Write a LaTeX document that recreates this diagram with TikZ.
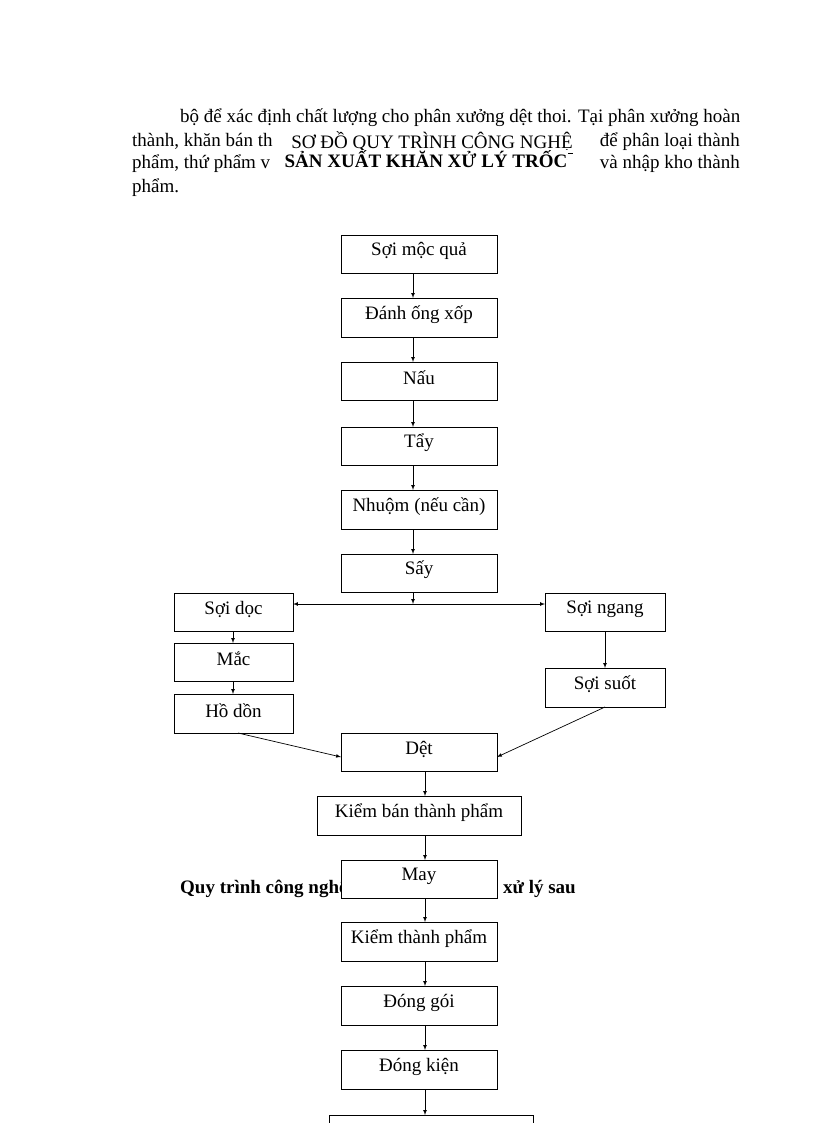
\documentclass[tikz,border=0pt]{standalone}
\usepackage{fontspec}
\setmainfont{Liberation Serif}
\begin{document}
\begin{tikzpicture}[x=1pt,y=-1pt,
 box/.style={draw,fill=white,line width=0.8pt,anchor=north west,inner sep=0pt},
 ar/.style={-latex,line width=0.7pt},
 txt/.style={inner sep=0pt,font=\fontsize{19}{21}\selectfont}]
\useasboundingbox (0,0) rectangle (816,1123);
\newcommand{\bx}[6]{\node[box,minimum width=#4-#2,minimum height=#5-#3] (#1) at (#2,#3) {};
 \node[txt] at ({(#2+#4)/2},{(#3+#5)/2-3}) {#6};}
% paragraph
\node[txt,anchor=base west,text width=560,align=justify] at (180,123) {bộ để xác định chất lượng cho phân xưởng dệt thoi. Tại phân xưởng hoàn\hfill\null};
\node[txt,anchor=base west] at (132,147) {thành, khăn bán th};
\node[txt,anchor=base east] at (740,147) {để phân loại thành};
\node[txt,anchor=base west] at (132,169) {phẩm, thứ phẩm v};
\node[txt,anchor=base east] at (740,169) {và nhập kho thành};
\node[txt,anchor=base west] at (132,193) {phẩm.};
\node[txt,fill=white,anchor=base,inner sep=1pt,font=\fontsize{19}{21}\selectfont] (t1) at (432,149) {\underline{SƠ ĐỒ QUY TRÌNH CÔNG NGHỆ}};
\node[txt,fill=white,anchor=base,font=\fontsize{19}{21}\selectfont\bfseries,inner sep=1pt] (t2) at (426,168) {SẢN XUẤT KHĂN XỬ LÝ TRỐC};
\node[txt,anchor=base west,font=\fontsize{19}{21}\selectfont\bfseries] at (180,893) {Quy trình công nghệ};
\node[txt,anchor=base east,font=\fontsize{19}{21}\selectfont\bfseries] at (576,893) {xử lý sau};
% boxes
\bx{a}{341}{235}{497}{273}{Sợi mộc quả}
\bx{b}{341}{298}{497}{337}{Đánh ống xốp}
\bx{c}{341}{362}{497}{400}{Nấu}
\bx{d}{341}{427}{497}{465}{Tẩy}
\bx{e}{341}{490}{497}{529}{Nhuộm (nếu cần)}
\bx{f}{341}{554}{497}{592}{Sấy}
\bx{g}{174}{593}{293}{631}{Sợi dọc}
\bx{h}{174}{643}{293}{681}{Mắc}
\bx{i}{174}{694}{293}{733}{Hồ dồn}
\bx{j}{545}{593}{665}{631}{Sợi ngang}
\bx{k}{545}{668}{665}{707}{Sợi suốt}
\bx{l}{341}{733}{497}{771}{Dệt}
\bx{m}{317}{796}{521}{835}{Kiểm bán thành phẩm}
\bx{n}{341}{860}{497}{898}{May}
\bx{o}{341}{922}{497}{961}{Kiểm thành phẩm}
\bx{p}{341}{986}{497}{1025}{Đóng gói}
\bx{q}{341}{1050}{497}{1089}{Đóng kiện}
\node[box,minimum width=204,minimum height=20] (r) at (329,1115) {};
% arrows
\draw[ar] (413,273) -- (413,298);
\draw[ar] (413,337) -- (413,362);
\draw[ar] (413,400) -- (413,427);
\draw[ar] (413,465) -- (413,490);
\draw[ar] (413,529) -- (413,554);
\coordinate (s) at (413,604);
\draw[ar] (413,592) -- (s);
\draw[ar] (s) -- (293,604);
\draw[ar] (s) -- (545,604);
\draw[ar] (233,631) -- (233,643);
\draw[ar] (233,681) -- (233,694);
\draw[ar] (605,631) -- (605,668);
\draw[ar] (238,733) -- (341,757);
\draw[ar] (605,707) -- (497,757);
\draw[ar] (425,771) -- (425,796);
\draw[ar] (425,835) -- (425,860);
\draw[ar] (425,898) -- (425,922);
\draw[ar] (425,961) -- (425,986);
\draw[ar] (425,1025) -- (425,1050);
\draw[ar] (425,1089) -- (425,1115);
\end{tikzpicture}
\end{document}
